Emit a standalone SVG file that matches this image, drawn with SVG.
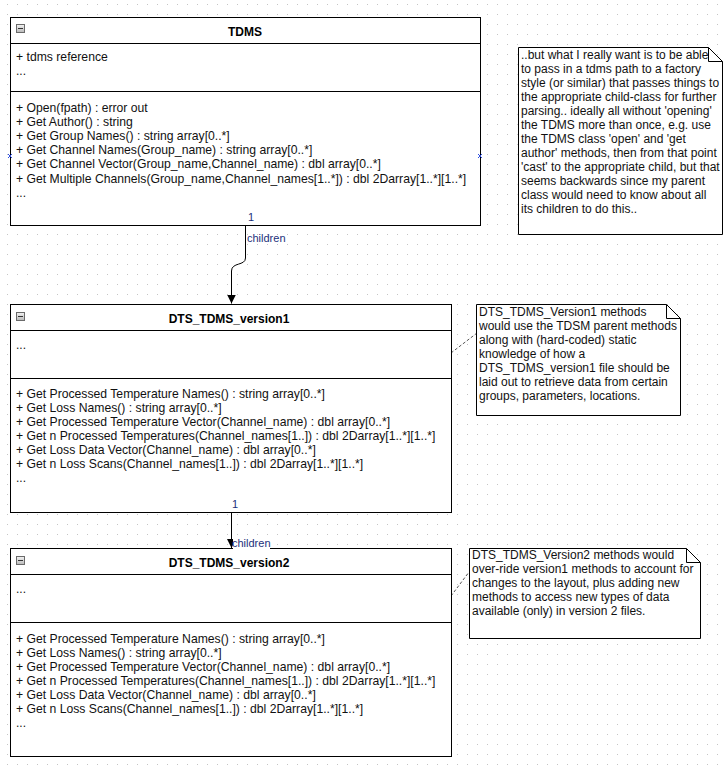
<svg xmlns="http://www.w3.org/2000/svg" width="727" height="767" viewBox="0 0 727 767">
<defs>
<pattern id="grid" width="10" height="10" patternUnits="userSpaceOnUse" x="7" y="4">
<rect x="0" y="0" width="1" height="1" fill="#c4c4c4"/>
</pattern>
<marker id="arr" viewBox="0 0 10 10" refX="10" refY="5" markerWidth="9" markerHeight="9" markerUnits="userSpaceOnUse" orient="auto">
<path d="M0,0 L10,5 L0,10 z" fill="#000"/>
</marker>
<linearGradient id="ig" x1="0" y1="0" x2="0" y2="1">
<stop offset="0" stop-color="#f4f4f4"/>
<stop offset="1" stop-color="#b8b8b8"/>
</linearGradient>
</defs>
<style>
.box{fill:#fff;stroke:#000;stroke-width:1}
.ln{stroke:#000;stroke-width:1;fill:none}
.t{font-family:"Liberation Sans",Arial,sans-serif;font-size:12px;fill:#111}
.m{font-size:12.2px}
.ti{font-family:"Liberation Sans",Arial,sans-serif;font-size:12px;font-weight:bold;fill:#000;text-anchor:middle}
.lab{font-family:"Liberation Sans",Arial,sans-serif;font-size:11px;fill:#1c2f7a}
.ic{fill:url(#ig);stroke:#6a6a6a;stroke-width:1}
.note{fill:#fff;stroke:#000;stroke-width:1}
.dash{stroke:#555;stroke-width:1;stroke-dasharray:3,2;fill:none}
.mk{stroke:#3050e0;stroke-width:1;fill:none}
</style>
<rect x="0" y="0" width="727" height="767" fill="#fff"/>
<rect x="0" y="0" width="727" height="767" fill="url(#grid)"/>

<g id="connectors">
<path class="ln" d="M245.5,225 V258 C245.5,266 231.5,262 231.5,271 V303.5" marker-end="url(#arr)"/>
<path class="ln" d="M231.5,512 V548" marker-end="url(#arr)"/>
<path class="dash" d="M451,353 L477,333"/>
<path class="dash" d="M451,596 L469,572"/>
</g>

<g id="TDMS">
<rect class="box" x="10.5" y="17.5" width="470" height="208"/>
<line class="ln" x1="10.5" y1="43.5" x2="480.5" y2="43.5"/>
<line class="ln" x1="10.5" y1="91.5" x2="480.5" y2="91.5"/>
<rect class="ic" x="16.5" y="24.5" width="8" height="8"/>
<line x1="18" y1="28.5" x2="23" y2="28.5" stroke="#333"/>
<text class="ti" x="245" y="36">TDMS</text>
<text class="t m" x="16" y="61">+ tdms reference</text>
<text class="t" x="16" y="75">...</text>
<text class="t m" x="16" y="112">+ Open(fpath) : error out</text>
<text class="t m" x="16" y="126">+ Get Author() : string</text>
<text class="t m" x="16" y="140">+ Get Group Names() : string array[0..*]</text>
<text class="t m" x="16" y="154">+ Get Channel Names(Group_name) : string array[0..*]</text>
<text class="t m" x="16" y="168">+ Get Channel Vector(Group_name,Channel_name) : dbl array[0..*]</text>
<text class="t m" x="16" y="183">+ Get Multiple Channels(Group_name,Channel_names[1..*]) : dbl 2Darray[1..*][1..*]</text>
<text class="t" x="16" y="197">...</text>
<path class="mk" d="M8,154 l4,4 M12,154 l-4,4 M478,154 l4,4 M482,154 l-4,4"/>
</g>

<g id="DTS_TDMS_version1">
<rect class="box" x="10.5" y="304.5" width="441" height="208"/>
<line class="ln" x1="10.5" y1="330.5" x2="451.5" y2="330.5"/>
<line class="ln" x1="10.5" y1="378.5" x2="451.5" y2="378.5"/>
<rect class="ic" x="16.5" y="312.5" width="8" height="8"/>
<line x1="18" y1="316.5" x2="23" y2="316.5" stroke="#333"/>
<text class="ti" x="229" y="323">DTS_TDMS_version1</text>
<text class="t" x="16" y="349">...</text>
<text class="t m" x="16" y="398">+ Get Processed Temperature Names() : string array[0..*]</text>
<text class="t m" x="16" y="412">+ Get Loss Names() : string array[0..*]</text>
<text class="t m" x="16" y="426">+ Get Processed Temperature Vector(Channel_name) : dbl array[0..*]</text>
<text class="t m" x="16" y="440">+ Get n Processed Temperatures(Channel_names[1..]) : dbl 2Darray[1..*][1..*]</text>
<text class="t m" x="16" y="454">+ Get Loss Data Vector(Channel_name) : dbl array[0..*]</text>
<text class="t m" x="16" y="468">+ Get n Loss Scans(Channel_names[1..]) : dbl 2Darray[1..*][1..*]</text>
<text class="t" x="16" y="482">...</text>
</g>

<g id="DTS_TDMS_version2">
<rect class="box" x="10.5" y="548.5" width="441" height="208"/>
<line class="ln" x1="10.5" y1="574.5" x2="451.5" y2="574.5"/>
<line class="ln" x1="10.5" y1="622.5" x2="451.5" y2="622.5"/>
<rect class="ic" x="16.5" y="556.5" width="8" height="8"/>
<line x1="18" y1="560.5" x2="23" y2="560.5" stroke="#333"/>
<text class="ti" x="229" y="567">DTS_TDMS_version2</text>
<text class="t" x="16" y="593">...</text>
<text class="t m" x="16" y="643">+ Get Processed Temperature Names() : string array[0..*]</text>
<text class="t m" x="16" y="657">+ Get Loss Names() : string array[0..*]</text>
<text class="t m" x="16" y="671">+ Get Processed Temperature Vector(Channel_name) : dbl array[0..*]</text>
<text class="t m" x="16" y="685">+ Get n Processed Temperatures(Channel_names[1..]) : dbl 2Darray[1..*][1..*]</text>
<text class="t m" x="16" y="699">+ Get Loss Data Vector(Channel_name) : dbl array[0..*]</text>
<text class="t m" x="16" y="713">+ Get n Loss Scans(Channel_names[1..]) : dbl 2Darray[1..*][1..*]</text>
<text class="t" x="16" y="727">...</text>
</g>

<g id="labels">
<text class="lab" x="248" y="221" font-size="10">1</text>
<text class="lab" x="247" y="242">children</text>
<text class="lab" x="232" y="508" font-size="10">1</text>
<rect x="233" y="538" width="37" height="11" fill="#fff"/>
<text class="lab" x="232" y="547">children</text>
</g>

<g id="note1">
<path class="note" d="M518.5,47.5 H708.5 L722.5,61.5 V234.5 H518.5 Z"/>
<path class="ln" d="M708.5,47.5 V61.5 H722.5"/>
<text class="t" x="521" y="59">..but what I really want is to be able</text>
<text class="t" x="521" y="73">to pass in a tdms path to a factory</text>
<text class="t" x="521" y="87">style (or similar) that passes things to</text>
<text class="t" x="521" y="101">the appropriate child-class for further</text>
<text class="t" x="521" y="115">parsing.. ideally all without 'opening'</text>
<text class="t" x="521" y="129">the TDMS more than once, e.g. use</text>
<text class="t" x="521" y="143">the TDMS class 'open' and 'get</text>
<text class="t" x="521" y="157">author' methods, then from that point</text>
<text class="t" x="521" y="171">'cast' to the appropriate child, but that</text>
<text class="t" x="521" y="185">seems backwards since my parent</text>
<text class="t" x="521" y="199">class would need to know about all</text>
<text class="t" x="521" y="213">its children to do this..</text>
</g>

<g id="note2">
<path class="note" d="M476.5,304.5 H666.5 L680.5,318.5 V415.5 H476.5 Z"/>
<path class="ln" d="M666.5,304.5 V318.5 H680.5"/>
<text class="t" x="479" y="316">DTS_TDMS_Version1 methods</text>
<text class="t" x="479" y="330">would use the TDSM parent methods</text>
<text class="t" x="479" y="344">along with (hard-coded) static</text>
<text class="t" x="479" y="358">knowledge of how a</text>
<text class="t" x="479" y="372">DTS_TDMS_version1 file should be</text>
<text class="t" x="479" y="386">laid out to retrieve data from certain</text>
<text class="t" x="479" y="400">groups, parameters, locations.</text>
</g>

<g id="note3">
<path class="note" d="M469.5,548.5 H686.5 L700.5,562.5 V638.5 H469.5 Z"/>
<path class="ln" d="M686.5,548.5 V562.5 H700.5"/>
<text class="t" x="472" y="559">DTS_TDMS_Version2 methods would</text>
<text class="t" x="472" y="573">over-ride version1 methods to account for</text>
<text class="t" x="472" y="587">changes to the layout, plus adding new</text>
<text class="t" x="472" y="601">methods to access new types of data</text>
<text class="t" x="472" y="615">available (only) in version 2 files.</text>
</g>
</svg>
